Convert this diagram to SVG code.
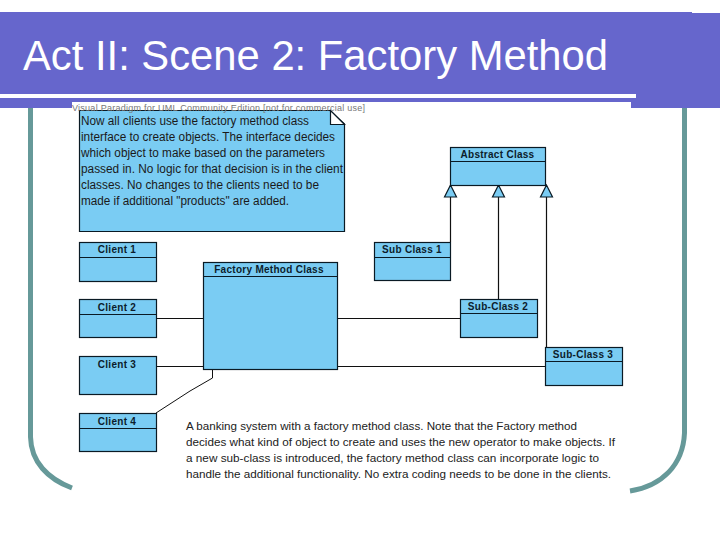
<svg xmlns="http://www.w3.org/2000/svg" width="720" height="540" viewBox="0 0 720 540">
<style>
.box{fill:#7accf3;stroke:#0a1a24;stroke-width:1.2}
.ln{fill:none;stroke:#101010;stroke-width:1.2}
.h{font:bold 10px "Liberation Sans",Arial,sans-serif;fill:#0c1c2c;text-anchor:middle;letter-spacing:.28px}
.n{font:12px "Liberation Sans",Arial,sans-serif;fill:#1a1a1a}
.t{font:11.5px "Liberation Sans",Arial,sans-serif;fill:#222}
.teal{fill:none;stroke:#669999;stroke-width:5}
</style>
<rect width="720" height="540" fill="#fff"/>
<g id="frame">
<path class="teal" d="M30.500 106V437C31 462 48 479 72 488"/>
<path class="teal" d="M684.500 106V433C683 465 662 486 630 491"/>
<path d="M0 12H692V13H720V108H631V102H72V108H0Z" fill="#6666cc"/>
<rect x="0" y="94" width="636" height="4" fill="#fff"/>
<text x="23" y="70" font-family="Liberation Sans, Arial, sans-serif" font-size="42" fill="#fff" textLength="585" lengthAdjust="spacingAndGlyphs">Act II: Scene 2: Factory Method</text>
</g>
<g id="connectors">
<path class="ln" d="M450.500 197V242M498.500 197V299M546.500 197V347"/>
<path class="ln" d="M156 318.500H203M337 318.500H460M156 366.500H203M337 366.500H545"/>
<path class="ln" style="stroke-width:1" d="M156 413L190 391L212.500 378V369"/>
<path class="box" d="M450.500 185l-6 12h12zM498.500 185l-6 12h12zM546.500 185l-6 12h12z"/>
</g>
<g id="note">
<path class="box" d="M79.500 110.500H330L344.500 124V231.500H79.500Z"/>
<path d="M330.500 110.500V124.500H344.500Z" fill="#fff" stroke="#0a1a24" stroke-width="1.200"/>
<text class="n" x="81" y="125" textLength="228" lengthAdjust="spacingAndGlyphs">Now all clients use the factory method class</text>
<text class="n" x="81" y="141" textLength="254" lengthAdjust="spacingAndGlyphs">interface to  create objects. The interface decides</text>
<text class="n" x="81" y="157" textLength="244" lengthAdjust="spacingAndGlyphs">which object to make based on the parameters</text>
<text class="n" x="81" y="173" textLength="262" lengthAdjust="spacingAndGlyphs">passed in. No logic for that decision is in the client</text>
<text class="n" x="81" y="189" textLength="238" lengthAdjust="spacingAndGlyphs">classes. No changes to the clients need to be</text>
<text class="n" x="81" y="205" textLength="208" lengthAdjust="spacingAndGlyphs">made if additional "products" are added.</text>
</g>
<text id="watermark" x="72" y="111" font-family="Liberation Sans, Arial, sans-serif" font-size="9" fill="#777" textLength="293">Visual Paradigm for UML Community Edition [not for commercial use]</text>
<g id="abstract"><rect class="box" x="450.500" y="147.500" width="95" height="38"/><path class="box" d="M450.500 161.500H545.500"/><text class="h" x="497.500" y="158">Abstract Class</text></g>
<g id="client1"><rect class="box" x="79.500" y="242.500" width="77" height="39"/><path class="box" d="M79.500 257.500H156.500"/><text class="h" x="117" y="253">Client 1</text></g>
<g id="subclass1"><rect class="box" x="374.500" y="242.500" width="76" height="38"/><path class="box" d="M374.500 257.500H450.500"/><text class="h" x="412" y="253">Sub Class 1</text></g>
<g id="factory"><rect class="box" x="203.500" y="262.500" width="134" height="107"/><path class="box" d="M203.500 276.500H337.500"/><text class="h" x="269" y="273">Factory Method Class</text></g>
<g id="client2"><rect class="box" x="79.500" y="299.500" width="77" height="38"/><path class="box" d="M79.500 314.500H156.500"/><text class="h" x="117" y="311">Client 2</text></g>
<g id="subclass2"><rect class="box" x="460.500" y="299.500" width="77" height="38"/><path class="box" d="M460.500 313.500H537.500"/><text class="h" x="498" y="310">Sub-Class 2</text></g>
<g id="subclass3"><rect class="box" x="545.500" y="347.500" width="77" height="38"/><path class="box" d="M545.500 361.500H622.500"/><text class="h" x="583" y="358">Sub-Class 3</text></g>
<g id="client3"><rect class="box" x="79.500" y="356.500" width="77" height="38"/><text class="h" x="117" y="368">Client 3</text></g>
<g id="client4"><rect class="box" x="79.500" y="413.500" width="77" height="38"/><path class="box" d="M79.500 428.500H156.500"/><text class="h" x="117" y="425">Client 4</text></g>
<g id="caption">
<text class="t" x="186" y="430" textLength="391" lengthAdjust="spacingAndGlyphs">A banking system with a factory method class. Note that the Factory method</text>
<text class="t" x="186" y="446" textLength="429" lengthAdjust="spacingAndGlyphs">decides what kind of object to create and uses the new operator to make objects. If</text>
<text class="t" x="186" y="462" textLength="413" lengthAdjust="spacingAndGlyphs">a new sub-class is introduced, the factory method class can incorporate logic to</text>
<text class="t" x="186" y="478" textLength="425" lengthAdjust="spacingAndGlyphs">handle the additional functionality. No extra coding needs to be done in the clients.</text>
</g>
</svg>
